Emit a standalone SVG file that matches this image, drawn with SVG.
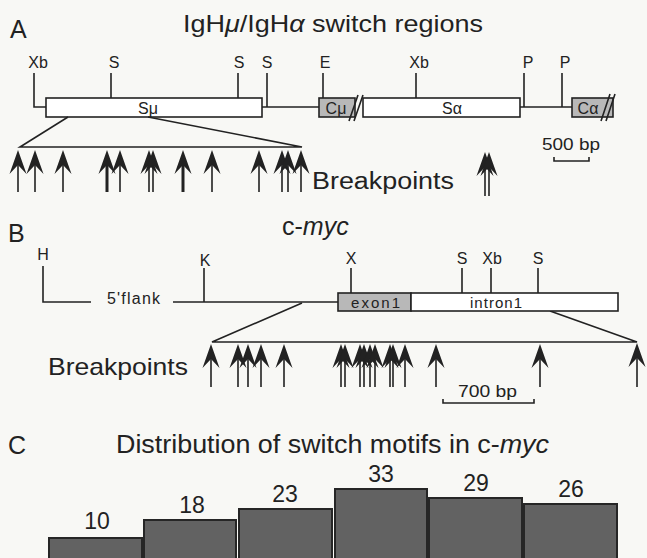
<svg xmlns="http://www.w3.org/2000/svg" xmlns:xlink="http://www.w3.org/1999/xlink" width="647" height="558" viewBox="0 0 647 558">
<style>
text{font-family:"Liberation Sans",Arial,sans-serif;fill:#222}
.ln{stroke:#222;stroke-width:1.6;fill:none}
.box{fill:#fff;stroke:#222;stroke-width:1.6}
.gbox{fill:#b8b8b8;stroke:#222;stroke-width:1.6}
.bar{fill:#626262;stroke:#262626;stroke-width:2}
.site{font-size:16px;text-anchor:middle}
.inbox{font-size:16px;text-anchor:middle}
.panel{font-size:25px}
.num{font-size:23px;text-anchor:middle}
.sh{stroke:#222;stroke-width:1.6}
.shb{stroke:#222;stroke-width:3}
.hd{fill:#222}
</style>
<defs>
<path id="ah" d="M0,0 L8.5,24 L0,15 L-8.5,24 Z"/>
</defs>
<rect width="647" height="558" fill="#f8f8f5"/>

<g id="panelA">
<text class="panel" x="10" y="38">A</text>
<text x="183" y="32" font-size="24" textLength="300" lengthAdjust="spacingAndGlyphs">IgH<tspan font-style="italic">μ</tspan>/IgH<tspan font-style="italic">α</tspan> switch regions</text>
</g>

<g id="Smu">
<path class="ln" d="M34,73 V107 H46"/>
<rect class="box" x="46" y="98" width="216" height="19"/>
<text class="inbox" x="148" y="114">Sμ</text>
<path class="ln" d="M111,73 V98 M238,73 V98 M267,73 V107 M262,107 H319"/>
<text class="site" x="38" y="68">Xb</text>
<text class="site" x="114" y="68">S</text>
<text class="site" x="239" y="68">S</text>
<text class="site" x="267" y="68">S</text>
</g>

<g id="Cmu">
<path class="ln" d="M323,73 V98"/>
<text class="site" x="325" y="68">E</text>
<rect class="gbox" x="319" y="98" width="36" height="19"/>
<text class="inbox" x="336" y="114">Cμ</text>
<path class="ln" d="M349,121 L358,95 M354,121 L363,95"/>
</g>

<g id="Salpha">
<rect class="box" x="363" y="98" width="157" height="19"/>
<text class="inbox" x="452" y="114">Sα</text>
<path class="ln" d="M416,73 V98 M524,73 V107 M520,107 H572 M562,73 V107"/>
<text class="site" x="419" y="68">Xb</text>
<text class="site" x="528" y="68">P</text>
<text class="site" x="565" y="68">P</text>
</g>

<g id="Calpha">
<rect class="gbox" x="572" y="98" width="41" height="19"/>
<text class="inbox" x="588" y="114">Cα</text>
<path class="ln" d="M601,121 L610,94 M606,121 L615,94"/>
</g>

<g id="scaleA">
<text x="542" y="150" font-size="17" textLength="58" lengthAdjust="spacingAndGlyphs">500 bp</text>
<path class="ln" d="M554,157 V161 H589 V157"/>
</g>

<g id="connectors">
<path class="ln" d="M68,117 L20,147 H302 L148,117"/>
<path class="ln" d="M302,303 L212,342 H637 L550,311"/>
</g>

<g id="breakpointsA">
<text x="312" y="189" font-size="23" textLength="142" lengthAdjust="spacingAndGlyphs">Breakpoints</text>
<g class="hd">
<use xlink:href="#ah" x="18" y="150"/><use xlink:href="#ah" x="35" y="150"/><use xlink:href="#ah" x="63" y="150"/>
<use xlink:href="#ah" x="107" y="150"/><use xlink:href="#ah" x="120" y="150"/><use xlink:href="#ah" x="149" y="150"/>
<use xlink:href="#ah" x="153" y="150"/><use xlink:href="#ah" x="183" y="150"/><use xlink:href="#ah" x="212" y="150"/>
<use xlink:href="#ah" x="259" y="150"/><use xlink:href="#ah" x="282" y="150"/><use xlink:href="#ah" x="288" y="150"/>
<use xlink:href="#ah" x="301" y="150"/>
<use xlink:href="#ah" x="485" y="152"/><use xlink:href="#ah" x="489" y="152"/>
</g>
<path class="sh" d="M18,165 V192 M35,165 V192 M63,165 V192 M120,165 V192 M149,165 V192 M153,165 V192 M212,165 V192 M259,165 V192 M282,165 V192 M288,165 V192 M301,165 V192 M485,168 V196 M489,168 V196"/>
<path class="shb" d="M107,165 V192 M183,165 V192"/>
</g>

<g id="panelB">
<text class="panel" x="8" y="242" font-size="27">B</text>
<text x="282" y="235" font-size="25">c-<tspan font-style="italic">myc</tspan></text>
</g>

<g id="cmyc">
<path class="ln" d="M43,266 V302 H91 M173,302 H338 M204,268 V302"/>
<text x="107" y="304" font-size="16" textLength="53" lengthAdjust="spacing">5'flank</text>
<text class="site" x="43" y="260">H</text>
<text class="site" x="205" y="266">K</text>
<rect class="gbox" x="338" y="293" width="73" height="18"/>
<rect class="box" x="411" y="293" width="207" height="18"/>
<text x="351" y="308" font-size="15" textLength="49" lengthAdjust="spacing">exon1</text>
<text x="470" y="308" font-size="15" textLength="52" lengthAdjust="spacing">intron1</text>
<path class="ln" d="M351,268 V293 M462,268 V293 M491,268 V293 M538,268 V293"/>
<text class="site" x="351" y="264">X</text>
<text class="site" x="462" y="264">S</text>
<text class="site" x="492" y="264">Xb</text>
<text class="site" x="538" y="264">S</text>
</g>

<g id="breakpointsB">
<text x="48" y="375" font-size="24" textLength="140" lengthAdjust="spacingAndGlyphs">Breakpoints</text>
<g class="hd">
<use xlink:href="#ah" x="211" y="344"/><use xlink:href="#ah" x="238" y="344"/><use xlink:href="#ah" x="248" y="344"/>
<use xlink:href="#ah" x="261" y="344"/><use xlink:href="#ah" x="284" y="344"/><use xlink:href="#ah" x="341" y="344"/>
<use xlink:href="#ah" x="345" y="344"/><use xlink:href="#ah" x="360" y="344"/><use xlink:href="#ah" x="364" y="344"/>
<use xlink:href="#ah" x="370" y="344"/><use xlink:href="#ah" x="375" y="344"/><use xlink:href="#ah" x="390" y="344"/>
<use xlink:href="#ah" x="393" y="344"/><use xlink:href="#ah" x="405" y="344"/><use xlink:href="#ah" x="436" y="344"/>
<use xlink:href="#ah" x="540" y="344"/><use xlink:href="#ah" x="637" y="343"/>
</g>
<path class="sh" d="M211,358 V387 M238,358 V387 M248,358 V387 M261,358 V387 M284,358 V387 M341,358 V387 M345,358 V387 M360,358 V387 M364,358 V387 M370,358 V387 M375,358 V387 M390,358 V387 M393,358 V387 M405,358 V387 M436,358 V387 M540,358 V387 M637,358 V387"/>
<text x="458" y="397" font-size="17" textLength="59" lengthAdjust="spacingAndGlyphs">700 bp</text>
<path class="ln" d="M443,399 V403 H534 V399"/>
</g>

<g id="panelC">
<text class="panel" x="8" y="454">C</text>
<text x="116" y="453" font-size="25" textLength="433" lengthAdjust="spacingAndGlyphs">Distribution of switch motifs in c-<tspan font-style="italic">myc</tspan></text>
</g>
<g id="bars">
<rect class="bar" x="49" y="538" width="93" height="30"/>
<rect class="bar" x="144" y="520" width="92" height="48"/>
<rect class="bar" x="239" y="509" width="93" height="59"/>
<rect class="bar" x="335" y="489" width="92" height="79"/>
<rect class="bar" x="429" y="498" width="93" height="70"/>
<rect class="bar" x="524" y="504" width="93" height="64"/>
<text class="num" x="97" y="529">10</text>
<text class="num" x="192" y="513">18</text>
<text class="num" x="285" y="502">23</text>
<text class="num" x="381" y="482">33</text>
<text class="num" x="476" y="491">29</text>
<text class="num" x="571" y="497">26</text>
</g>
</svg>
